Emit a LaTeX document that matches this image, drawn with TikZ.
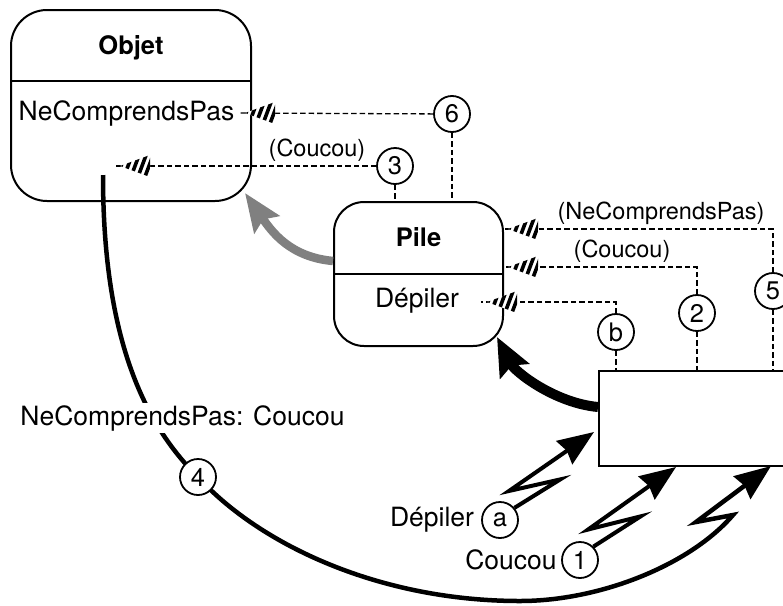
\documentclass[tikz,border=0pt]{standalone}
\usepackage{fontspec}
\setmainfont{TeX Gyre Heros}
\usetikzlibrary{arrows.meta,calc,backgrounds}

\begin{document}
\begin{tikzpicture}[x=1pt,y=-1pt,
  every node/.style={inner sep=0pt, font=\fontsize{26.5}{30}\selectfont},
  classbox/.style={draw, line width=2pt},
  classline/.style={line width=1.6pt},
  titletext/.style={font=\fontsize{25.5}{28}\selectfont\bfseries},
  num/.style={circle, draw, line width=1.8pt, fill=white, minimum size=36pt,
    inner sep=0pt, font=\fontsize{25.5}{25.5}\selectfont},
  msg/.style={dash pattern=on 5.5pt off 3pt, line width=1.3pt},
  lbl/.style={font=\fontsize{23.5}{26}\selectfont},
  hatchhead/.pic={
    \fill[white] (0,0) -- (30,-11) -- (30,11) -- cycle;
    \clip (0,0) -- (30,-11) -- (30,11) -- cycle;
    \foreach \s in {1.5,8.5,15.5,22.5,29.5}
      \draw[line width=3.6pt] (\s-5,12) -- (\s+4,-12);
  },
  bolt/.style={line width=4pt, miter limit=10,
    -{Stealth[length=36pt,width=28pt,inset=3pt]},
    to path={-- ($(\tikztostart)!0.48!(\tikztotarget)!11pt!-90:(\tikztotarget)$)
             -- ($(\tikztostart)!0.07!(\tikztotarget)!16pt!90:(\tikztotarget)$)
             -- (\tikztotarget)}},
  inherit/.style={line width=8.5pt, color=black!50,
    -{Stealth[length=38pt,width=30pt,inset=6pt]}},
  activates/.style={line width=10pt,
    -{Stealth[length=38pt,width=32pt,inset=6pt]}},
]
\useasboundingbox (0,0) rectangle (783,605);
\clip (0,0) rectangle (783,605);

% ---------- classes ----------
\node[classbox, rounded corners=36pt, minimum width=240pt, minimum height=191pt]
  (objet) at (131,105.5) {};
\coordinate (objdiv) at (0,81);
\draw[classline] (objet.west |- objdiv) -- (objet.east |- objdiv);
\node[titletext] (objettitle) at (131,48) {Objet};
\node (objetncp) at (126.5,113) {NeComprendsPas};

\node[classbox, rounded corners=30pt, minimum width=169pt, minimum height=144pt]
  (pile) at (418.5,274) {};
\coordinate (pilediv) at (0,274);
\draw[classline] (pile.west |- pilediv) -- (pile.east |- pilediv);
\node[titletext] (piletitle) at (418.5,237) {Pile};
\node (piledep) at (417,301) {Dépiler};

% receiving object, partly outside the frame
\node[draw, line width=2pt, fill=white, anchor=north west,
  minimum width=200pt, minimum height=95pt] (box) at (598,370) {};

% ---------- message circles ----------
\node[num] (c6) at (452,114) {6};
\node[num] (c3) at (395,166) {3};
\node[num] (c5) at (773,291) {5};
\node[num] (c2) at (697,313) {2};
\node[num] (cb) at (616,332) {b};
\node[num] (c4) at (198,477) {4};
\node[num] (ca) at (500,520) {a};
\node[num] (c1) at (580,560) {1};

% ---------- dashed method lookups ----------
\coordinate (objncpend) at (239,113);
\coordinate (objcouend) at (115,166);
\coordinate (pilencpend) at (505,229);
\coordinate (pilecouend) at (505,267);
\coordinate (piledepend) at (481,302);

\begin{scope}[on background layer]
\draw[msg] (c6) -- (objncpend);
\draw[msg] (c6) -- (c6 |- pile.north);
\draw[msg] (c3) -- (objcouend);
\draw[msg] (c3) -- (c3 |- pile.north);
\draw[msg] (c5) |- (pilencpend);
\draw[msg] (c5) -- (c5 |- box.north);
\draw[msg] (c2) |- (pilecouend);
\draw[msg] (c2) -- (c2 |- box.north);
\draw[msg] (cb) |- (piledepend);
\draw[msg] (cb) -- (cb |- box.north);
\end{scope}

\pic at (245,113) {hatchhead};
\pic at (120,166) {hatchhead};
\pic at (508,229) {hatchhead};
\pic at (508,267) {hatchhead};
\pic at (487,302) {hatchhead};

\node[lbl] (lblncp) at (661,213) {(NeComprendsPas)};
\node[lbl] (lblcoupile) at (622,251) {(Coucou)};
\node[lbl] (lblcouobj) at (317,150) {(Coucou)};

% ---------- inheritance and activation arrows ----------
\coordinate (graystart) at (pile.west |- 0,261);
\coordinate (objcorner) at (245,193);
\draw[inherit] (graystart) .. controls (290,257) and (272,232) .. (objcorner);

\coordinate (blackstart) at (box.west |- 0,407);
\coordinate (pilecorner) at (497,337);
\draw[activates] (blackstart) .. controls (555,403) and (515,372) .. (pilecorner);

% ---------- incoming messages ----------
\node (txtdep) at (432,520) {Dépiler};
\node (txtcou) at (511,560) {Coucou};

\coordinate (tipa) at (594,432);
\coordinate (tip1) at (676,467);
\coordinate (tip4) at (771,466);
\draw[bolt] (ca.40) to (tipa);
\draw[bolt] (c1.45) to (tip1);

\coordinate (c4start) at (103,175);
\coordinate (c4zig) at (733,515);
\coordinate (c4zag) at (696,522);
\begin{scope}[on background layer]
\draw[line width=4.5pt, miter limit=10, -{Stealth[length=36pt,width=28pt,inset=3pt]}]
  (c4start) .. controls (103,330) and (140,420) .. (c4.center)
  .. controls (260,545) and (380,601) .. (520,601)
  .. controls (600,601) and (690,565) .. (c4zig)
  -- (c4zag) -- (tip4);
\end{scope}
\node[fill=white, inner sep=2pt] (lbl4) at (182.5,418) {NeComprendsPas: Coucou};
\end{tikzpicture}
\end{document}
